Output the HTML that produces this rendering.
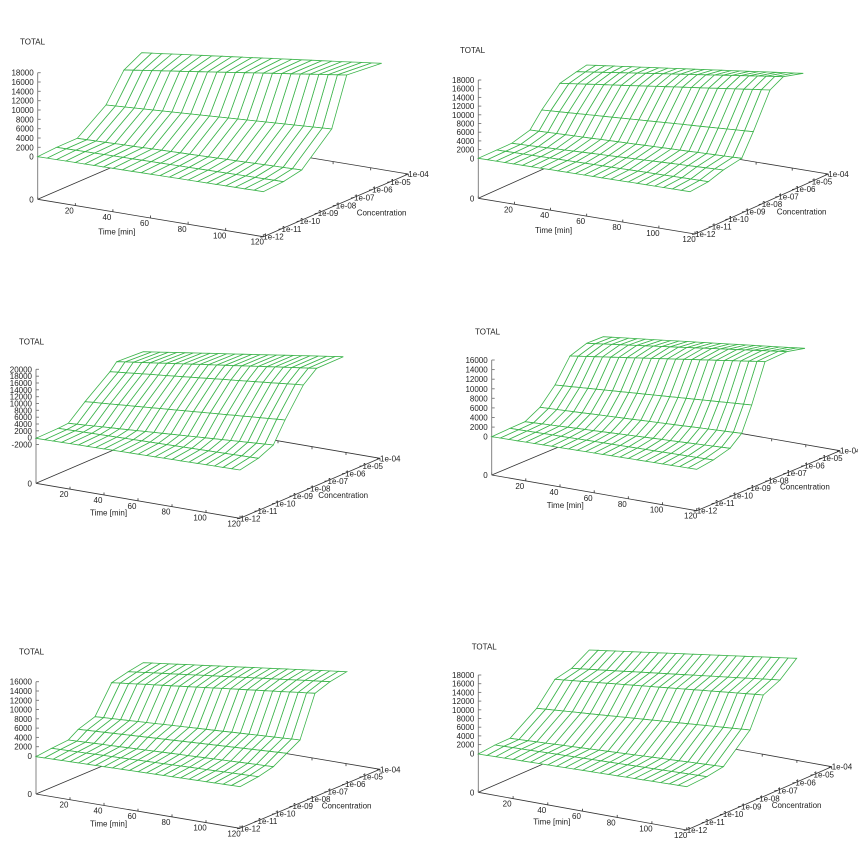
<!DOCTYPE html>
<html><head><meta charset="utf-8"><style>
html,body{margin:0;padding:0;background:#fff;}
svg{display:block;}
text{font-family:"Liberation Sans",sans-serif;font-size:8px;fill:#222;}
</style></head><body>
<svg id="s" width="858" height="861" viewBox="0 0 858 861" xmlns="http://www.w3.org/2000/svg"></svg>
<script>
var P=[
{off:[0,30],O:[113,508],T:[790,620],C:[1225,432],zt:128,zl:[18000,128,380],tot:[75,35],tm:[310,605],cn:[1130,548],
rows:[[113,380,790,485],[170,352,850,455],[232,325,905,420],[318,225,995,297],[372,120,1040,135],[425,68,1145,100]]},
{off:[430,30],O:[145,505],T:[795,612],C:[1195,432],zt:150,zl:[18000,150,385],tot:[105,60],tm:[330,600],cn:[1100,545],
rows:[[145,385,780,485],[200,360,835,455],[245,340,880,420],[300,300,935,385],[335,240,970,305],[390,160,1020,180],[440,125,1060,140],[470,105,1120,130]]},
{off:[0,330],O:[108,460],T:[720,565],C:[1140,385],zt:118,zl:[20000,118,323],neg:true,tot:[72,35],tm:[285,548],cn:[1015,495],
rows:[[108,325,720,420],[175,295,775,385],[205,280,820,345],[255,215,855,270],[330,125,910,165],[350,95,950,115],[430,65,1030,80]]},
{off:[430,320],O:[185,465],T:[800,572],C:[1230,392],zt:120,zl:[16000,120,350],tot:[150,35],tm:[365,555],cn:[1110,500],
rows:[[185,350,800,448],[240,325,850,420],[285,305,900,385],[330,262,935,340],[375,195,965,255],[420,108,1005,125],[470,70,1070,95],[520,50,1125,85]]},
{off:[0,640],O:[108,462],T:[720,565],C:[1140,388],zt:125,zl:[16000,125,348],tot:[72,35],tm:[285,550],cn:[1025,497],
rows:[[108,350,720,440],[155,325,775,410],[205,300,820,380],[235,268,860,340],[285,230,900,300],[335,128,945,160],[385,95,990,125],[430,68,1040,95]]},
{off:[430,630],O:[145,487],T:[770,600],C:[1205,410],zt:135,zl:[18000,135,370],tot:[140,50],tm:[325,575],cn:[1085,525],
rows:[[145,372,770,470],[195,345,830,440],[240,325,880,410],[320,235,960,300],[375,148,1000,195],[425,115,1050,150],[478,60,1100,85]]}
];
var s=document.getElementById('s'),h='';
function tx(p,x,y){return [x/3+p.off[0],y/3+p.off[1]];}
function ln(a,b,c,w){return '<line x1="'+a[0].toFixed(1)+'" y1="'+a[1].toFixed(1)+'" x2="'+b[0].toFixed(1)+'" y2="'+b[1].toFixed(1)+'" stroke="'+c+'" stroke-width="'+w+'"/>';}
function t(x,y,str,anc){return '<text x="'+x.toFixed(1)+'" y="'+y.toFixed(1)+'"'+(anc?' text-anchor="'+anc+'"':'')+'>'+str+'</text>';}
P.forEach(function(p){
 var O=tx(p,p.O[0],p.O[1]),T=tx(p,p.T[0],p.T[1]),C=tx(p,p.C[0],p.C[1]);
 var B=[O[0]+C[0]-T[0],O[1]+C[1]-T[1]];
 var ax='#333';
 h+=ln(O,T,ax,0.8)+ln(T,C,ax,0.8)+ln(O,B,ax,0.8)+ln(B,C,ax,0.8);
 for(var k=0;k<=6;k++){var f=k/6,x=O[0]+f*(T[0]-O[0]),y=O[1]+f*(T[1]-O[1]);
  h+=ln([x,y],[x,y-2.5],ax,0.8);
  var bx=B[0]+f*(C[0]-B[0]),by=B[1]+f*(C[1]-B[1]);h+=ln([bx,by],[bx,by+2.5],ax,0.8);
  if(k>0)h+=t(x-6,y+8,String(k*20),'middle');}
 var cl=['1e-12','1e-11','1e-10','1e-09','1e-08','1e-07','1e-06','1e-05','1e-04'];
 for(k=0;k<9;k++){var f=k/8,x=T[0]+f*(C[0]-T[0]),y=T[1]+f*(C[1]-T[1]);
  h+=ln([x,y],[x-3,y+0.5],ax,0.8);
  h+=t(x,y+3,cl[k]);}
 var zt=tx(p,p.O[0],p.zt);
 h+=ln(O,[O[0],zt[1]],'#777',0.9);
 var zmax=p.zl[0],y0=p.zl[2]/3+p.off[1],yt=p.zl[1]/3+p.off[1],n=zmax/2000,st=(y0-yt)/n;
 for(k=0;k<=n;k++){var y=y0-k*st;h+=ln([O[0],y],[O[0]+3,y],'#777',0.9);h+=t(O[0]-4,y+3,String(k*2000),'end');}
 if(p.neg){var y=y0+st;h+=ln([O[0],y],[O[0]+3,y],'#777',0.9);h+=t(O[0]-4,y+3,'-2000','end');}
 h+=t(O[0]-4,O[1]+3,'0','end');
 var a=tx(p,p.tot[0],p.tot[1]);h+=t(a[0]-5,a[1]+3,'TOTAL');
 a=tx(p,p.tm[0],p.tm[1]);h+=t(a[0]-5,a[1]+3,'Time [min]');
 a=tx(p,p.cn[0],p.cn[1]);h+=t(a[0]-20,a[1]+3,'Concentration');
 var R=p.rows.map(function(r){var L=tx(p,r[0],r[1]),Rr=tx(p,r[2],r[3]);var pts=[];
   for(var j=0;j<=24;j++){var f=j/24;pts.push([L[0]+f*(Rr[0]-L[0]),L[1]+f*(Rr[1]-L[1])]);}return pts;});
 for(var i=R.length-2;i>=0;i--){for(var j=23;j>=0;j--){
   var q=[R[i][j],R[i][j+1],R[i+1][j+1],R[i+1][j]];
   h+='<polygon points="'+q.map(function(v){return v[0].toFixed(1)+','+v[1].toFixed(1);}).join(' ')+'" fill="#fff" stroke="#3cb44b" stroke-width="0.8"/>';}}
});
s.innerHTML=h;
</script>
</body></html>
